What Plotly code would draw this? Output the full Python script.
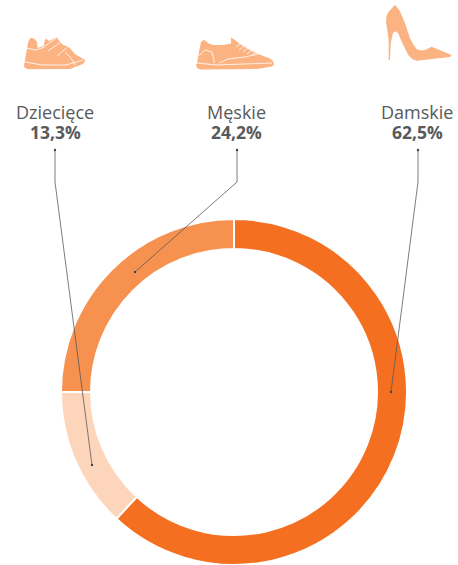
import plotly.graph_objects as go

W, H = 458, 565
categories = ["Damskie", "Dziecięce", "Męskie"]
shown_labels = ["62,5%", "13,3%", "24,2%"]
slice_values = [61.9, 13.1, 25.0]
slice_colors = ["#f46f20", "#fdd5bb", "#f79150"]
ICON = "#fcb382"
INK = "#58595b"


def X(v):
    return v / W


def Y(v):
    return 1 - v / H


def path(points, close=True):
    s = "M" + " L".join(f"{X(a):.5f},{Y(b):.5f}" for a, b in points)
    return s + (" Z" if close else "")


fig = go.Figure(go.Pie(
    labels=categories, values=slice_values, sort=False, direction="clockwise", rotation=0,
    hole=143 / 173, textinfo="none", hoverinfo="label",
    marker=dict(colors=slice_colors, line=dict(color="white", width=2)),
    domain=dict(x=[61 / W, 407 / W], y=[0, 346 / H]), showlegend=False,
))

child = [(28.3, 41.7), (30, 38.5), (32, 37.7), (35, 39.5), (37, 42), (37.5, 48), (44, 46), (44.3, 41.5), (46, 38.5),
         (49, 41), (56.7, 37.3), (60.7, 42.7), (63.3, 45), (68.3, 46.7), (75, 54), (85, 60), (84.5, 62), (83, 64),
         (70, 69), (28.3, 69.3), (25, 68), (24, 66), (25, 60), (26.7, 50)]
men = [(201, 42), (203.5, 40), (206, 41), (208, 43), (213, 45), (223, 45), (223, 45), (231, 43.5), (231, 37.5), (235, 40),
       (240, 44), (250, 50), (258, 54), (270, 58.5), (273, 61), (274, 64.5), (272, 66.5), (257, 69), (200, 69.5),
       (197, 68), (196, 65), (197, 63), (199, 52)]
heel = [(395, 5), (399.3, 10), (402, 16), (405, 23.3), (410, 38.3), (413, 44), (416.7, 49.3), (421, 50.5), (425, 50),
        (431.7, 46.7), (451.7, 55), (450, 57), (430, 59.3), (416.7, 60.7), (412, 59), (408.3, 55), (401.7, 41.7),
        (398, 33), (396.7, 31.7), (394, 31.7), (392.7, 34), (390.7, 43.3), (390, 60), (388.7, 60), (388.7, 40),
        (386, 21.7), (386.7, 15), (390, 10)]
shapes = [dict(type="path", xref="paper", yref="paper", path=path(p), fillcolor=ICON, line=dict(width=0))
          for p in (child, men, heel)]

details = [
    [(26, 48), (36, 50), (45, 47)], [(25, 62), (42, 65), (66, 65), (83, 60)],
    [(45, 46), (56.5, 38)], [(48, 51), (60, 42.5)], [(57, 56), (68, 46.7)], [(65, 52), (71, 58), (75, 65)],
    [(199, 56), (205, 50), (212, 52), (214, 60), (214, 63)], [(219, 63), (228, 59), (245, 57), (258, 54)],
    [(197, 63), (216, 65), (272, 63)],
    [(236, 47), (241, 43)], [(239, 50), (244, 46)], [(243, 52), (248, 48)], [(247, 54), (252, 50)], [(251, 56), (256, 52)],
]
for d in details:
    shapes.append(dict(type="path", xref="paper", yref="paper", path=path(d, False),
                       line=dict(color="white", width=0.8)))

leaders = [[(55, 150), (55, 182), (92, 465)], [(237, 150), (237, 182), (135, 272)], [(418, 150), (418, 182), (391, 392)]]
for l in leaders:
    shapes.append(dict(type="path", xref="paper", yref="paper", path=path(l, False),
                       line=dict(color="#5a5a5a", width=0.8)))
    for a, b in (l[0], l[-1]):
        shapes.append(dict(type="circle", xref="paper", yref="paper", x0=X(a - 1.2), x1=X(a + 1.2),
                           y0=Y(b + 1.2), y1=Y(b - 1.2), fillcolor="#444", line=dict(width=0)))

label_x = [417, 55, 236]
annotations = []
for c, s, x in zip(categories, shown_labels, label_x):
    annotations.append(dict(text=c, x=X(x), y=Y(112), xref="paper", yref="paper", xanchor="center",
                            yanchor="middle", showarrow=False,
                            font=dict(family="Open Sans", size=18, color=INK)))
    annotations.append(dict(text=f"<b>{s}</b>", x=X(x), y=Y(132), xref="paper", yref="paper", xanchor="center",
                            yanchor="middle", showarrow=False,
                            font=dict(family="Open Sans", size=17.5, color=INK)))

fig.update_layout(width=W, height=H, margin=dict(l=0, r=0, t=0, b=0), paper_bgcolor="white",
                  shapes=shapes, annotations=annotations)
fig.write_html("out.html", config=dict(displayModeBar=False),
               post_script="document.body.style.margin='0';document.body.style.overflow='hidden';")
